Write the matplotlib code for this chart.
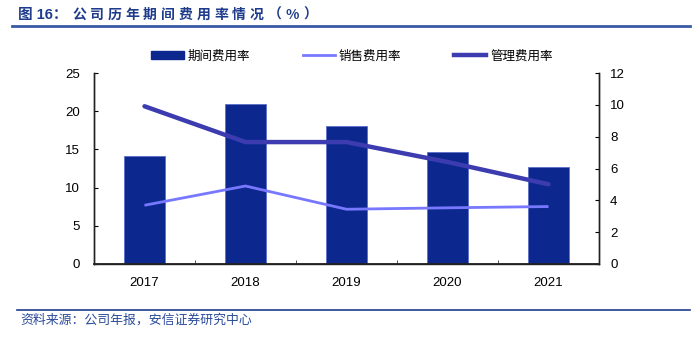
import matplotlib
matplotlib.use("Agg")
import matplotlib.pyplot as plt
from matplotlib.lines import Line2D
from matplotlib.patches import Patch
import numpy as np

plt.rcParams['font.family'] = ['Liberation Sans', 'Noto Sans CJK SC', 'DejaVu Sans']

years = ['2017', '2018', '2019', '2020', '2021']
period_rate = [14.1, 20.9, 18.1, 14.6, 12.7]
sales_rate = [3.69, 4.90, 3.44, 3.53, 3.61]
admin_rate = [9.91, 7.66, 7.66, 6.41, 5.01]
left_ticks = [0, 5, 10, 15, 20, 25]
right_ticks = [0, 2, 4, 6, 8, 10, 12]
title_head = '图 16：'
title_body = '公司历年期间费用率情况（%）'
source_text = '资料来源：公司年报，安信证券研究中心'

bar_color = '#0c288e'
sales_color = '#7878ff'
admin_color = '#3c3cb0'
title_color = '#1f3c8c'

fig = plt.figure(figsize=(7, 3.4), dpi=100)
ax = fig.add_axes([94/700, 1-264/340, (599-94)/700, (264-73)/340])
ax2 = ax.twinx()

x = np.arange(len(years))
ax.bar(x, period_rate, width=0.40, color=bar_color, edgecolor='#5b6fc8', linewidth=0.6, zorder=2)
ax2.plot(x, sales_rate, color=sales_color, linewidth=2.0, solid_capstyle='butt')
ax2.plot(x, admin_rate, color=admin_color, linewidth=3.2, solid_capstyle='round')

ax.set_xlim(-0.5, len(years)-0.5)
ax.set_ylim(0, 25)
ax2.set_ylim(0, 12)
ax.set_yticks(left_ticks)
ax2.set_yticks(right_ticks)
ax.set_xticks(x)
ax.set_xticklabels(years)
ax.set_xticks(np.arange(0.5, len(years)-0.5, 1), minor=True)
ax.tick_params(axis='x', which='major', length=0, pad=9, labelsize=9.5)
ax.tick_params(axis='x', which='minor', length=3, direction='in', color='#333333')
ax.tick_params(axis='y', length=3, direction='in', pad=10, labelsize=9.5)
ax2.tick_params(axis='y', length=3, direction='in', pad=8, labelsize=9.5)

for a in (ax, ax2):
    a.spines['top'].set_visible(False)
    for s in ('left', 'right', 'bottom'):
        a.spines[s].set_color('#222222')
        a.spines[s].set_linewidth(1.0)
ax.spines['bottom'].set_linewidth(1.3)

handles = [Patch(facecolor=bar_color, edgecolor=bar_color),
           Line2D([], [], color=sales_color, linewidth=2.0),
           Line2D([], [], color=admin_color, linewidth=3.2)]
labels = ['期间费用率', '销售费用率', '管理费用率']
fig.legend(handles, labels, ncol=3, loc='center', bbox_to_anchor=(352/700, 1-56/340),
           frameon=False, prop={'family': ['Noto Sans CJK SC'], 'size': 9},
           handlelength=2.6, handleheight=0.6, handletextpad=0.3, columnspacing=4.2)

# title with letter spacing
fig.text(18/700, 1-15/340, title_head, color=title_color, fontsize=10.5, fontweight='bold',
         family=['Liberation Sans', 'Noto Sans CJK SC'], va='center', ha='left')
pitch = 17.8
for i, ch in enumerate(title_body):
    fig.text((72 + i*pitch)/700, 1-15/340, ch, color=title_color, fontsize=10, fontweight='bold',
             family=['Noto Sans CJK SC'], va='center', ha='left')
fig.add_artist(Line2D([12/700, 690/700], [1-26/340, 1-26/340], color='#3a5aa6', linewidth=2.0))
fig.add_artist(Line2D([17/700, 690/700], [1-310/340, 1-310/340], color='#1f3c8c', linewidth=1.2))
fig.text(20/700, 1-320/340, source_text, color='#2a4a9a',
         fontsize=9.3, family=['Noto Sans CJK SC'], va='center', ha='left', style='italic')

fig.savefig('out.png', dpi=100)
